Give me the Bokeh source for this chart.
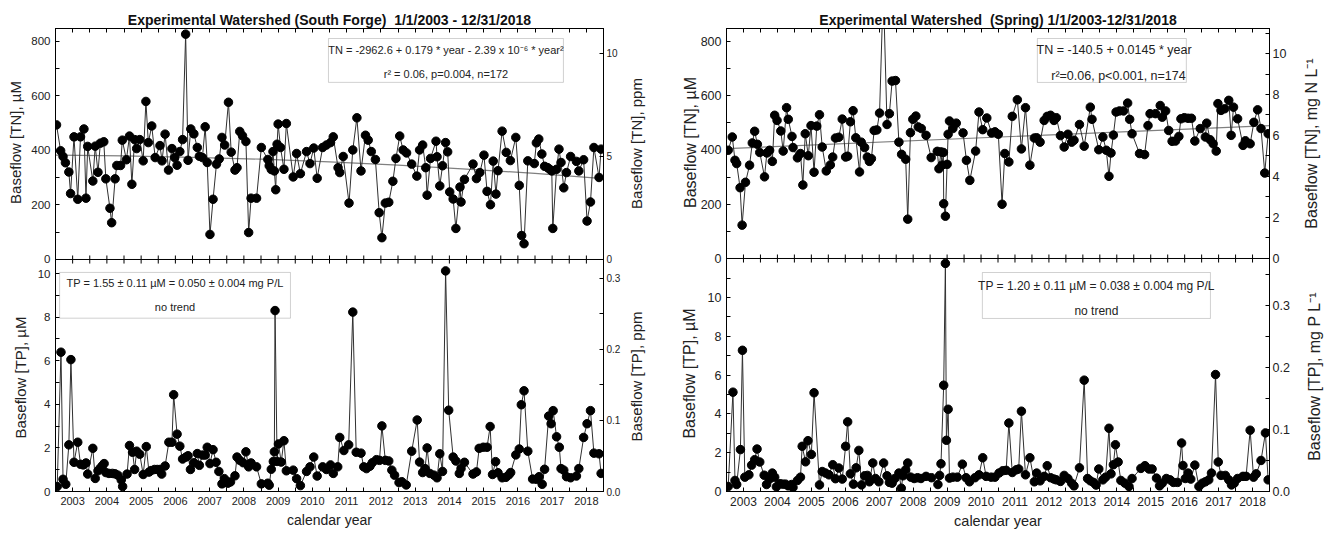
import math
from bokeh.plotting import figure
from bokeh.models import (Range1d, LinearAxis, FixedTicker, CustomJSTickFormatter,
                          PrintfTickFormatter, BoxAnnotation, Label, GridBox, Span, Column)
from bokeh.embed import file_html
from bokeh.resources import INLINE

FONT = "Liberation Sans"

# ---------------- data: South Forge ----------------
sf_tn_year = [2003.03, 2003.15, 2003.22, 2003.29, 2003.39, 2003.44, 2003.54, 2003.65, 2003.73, 2003.83, 2003.89, 2003.94,
              2004.09, 2004.16, 2004.24, 2004.31, 2004.41, 2004.47, 2004.59, 2004.64, 2004.74, 2004.79, 2004.90, 2004.95,
              2005.07, 2005.16, 2005.23, 2005.31, 2005.37, 2005.46, 2005.56, 2005.64, 2005.71, 2005.81, 2005.91,
              2006.05, 2006.11, 2006.20, 2006.30, 2006.40, 2006.48, 2006.55, 2006.63, 2006.71, 2006.80, 2006.87, 2006.95,
              2007.04, 2007.14, 2007.20, 2007.29, 2007.37, 2007.43, 2007.51, 2007.60, 2007.70, 2007.78, 2007.86, 2007.94,
              2008.05, 2008.13, 2008.24, 2008.30, 2008.38, 2008.46, 2008.56, 2008.64, 2008.71, 2008.87,
              2009.01, 2009.20, 2009.24, 2009.30, 2009.35, 2009.39, 2009.43, 2009.47, 2009.50, 2009.57, 2009.67, 2009.74, 2009.94,
              2010.04, 2010.15, 2010.33, 2010.43, 2010.54, 2010.64, 2010.80, 2010.91,
              2011.03, 2011.11, 2011.25, 2011.30, 2011.40, 2011.57, 2011.68, 2011.80, 2011.92,
              2012.05, 2012.13, 2012.22, 2012.34, 2012.45, 2012.53, 2012.63, 2012.73, 2012.85, 2012.94,
              2013.05, 2013.15, 2013.25, 2013.40, 2013.55, 2013.63, 2013.72, 2013.81, 2013.85, 2013.95,
              2014.11, 2014.14, 2014.22, 2014.30, 2014.39, 2014.45, 2014.51, 2014.61, 2014.69, 2014.81, 2014.84, 2014.94,
              2015.19, 2015.29, 2015.39, 2015.51, 2015.60, 2015.70, 2015.78, 2015.86, 2015.92,
              2016.04, 2016.16, 2016.28, 2016.44, 2016.54, 2016.61, 2016.68, 2016.79, 2016.98,
              2017.04, 2017.11, 2017.20, 2017.28, 2017.37, 2017.43, 2017.49, 2017.52, 2017.63, 2017.70, 2017.76, 2017.84, 2017.92,
              2018.04, 2018.21, 2018.28, 2018.42, 2018.52, 2018.62, 2018.72, 2018.87, 2018.93]
sf_tn = [494, 399, 378, 355, 321, 242, 450, 221, 450, 479, 225, 415,
         288, 416, 320, 427, 432, 296, 188, 135, 296, 345, 345, 438,
         366, 453, 276, 440, 407, 440, 362, 580, 429, 490, 374,
         418, 362, 460, 328, 407, 374, 346, 396, 440, 827, 364, 479,
         461, 411, 379, 374, 487, 356, 92, 221, 350, 369, 448, 420,
         577, 394, 328, 337, 470, 454, 433, 99, 225, 225,
         411, 367, 344, 330, 396, 325, 256, 423, 497, 411, 331, 499, 303,
         389, 315, 396, 352, 409, 298, 411, 420,
         429, 450, 337, 319, 378, 207, 402, 520, 325,
         456, 438, 396, 367, 172, 80, 207, 210, 287, 371,
         453, 402, 391, 350, 306, 402, 420, 337, 236, 371,
         434, 377, 270, 344, 429, 395, 248, 222, 114, 266, 211, 294,
         350, 297, 319, 383, 250, 201, 361, 240, 326,
         471, 393, 363, 448, 272, 88, 58, 362, 352,
         428, 442, 387, 342, 337, 331, 325, 114, 331, 405, 356, 263, 319,
         378, 360, 325, 366, 141, 211, 411, 301, 405]
sf_trend_year = [2003, 2005, 2007, 2009, 2011, 2013, 2015, 2017, 2019]
sf_trend = [383, 380, 375, 368, 358, 346, 332, 316, 297]

sf_tp_year = [2003.05, 2003.16, 2003.22, 2003.30, 2003.39, 2003.45, 2003.54, 2003.65, 2003.73, 2003.81, 2003.89, 2003.94,
              2004.09, 2004.16, 2004.24, 2004.31, 2004.37, 2004.42, 2004.47, 2004.56, 2004.66, 2004.74, 2004.82, 2004.92, 2004.96,
              2005.09, 2005.16, 2005.25, 2005.31, 2005.37, 2005.46, 2005.56, 2005.65, 2005.73, 2005.79, 2005.89, 2005.97,
              2006.05, 2006.10, 2006.20, 2006.31, 2006.40, 2006.45, 2006.55, 2006.63, 2006.71, 2006.81, 2006.87, 2006.94,
              2007.04, 2007.14, 2007.20, 2007.29, 2007.37, 2007.43, 2007.51, 2007.60, 2007.69, 2007.77, 2007.86, 2007.93,
              2008.03, 2008.11, 2008.24, 2008.30, 2008.38, 2008.48, 2008.56, 2008.64, 2008.71, 2008.87,
              2009.01, 2009.20, 2009.24, 2009.30, 2009.36, 2009.39, 2009.41, 2009.47, 2009.51, 2009.59, 2009.67, 2009.74, 2009.94,
              2010.04, 2010.15, 2010.33, 2010.43, 2010.54, 2010.64, 2010.80, 2010.91,
              2011.03, 2011.11, 2011.24, 2011.30, 2011.42, 2011.56, 2011.68, 2011.78, 2011.92,
              2012.00, 2012.08, 2012.18, 2012.25, 2012.37, 2012.46, 2012.53, 2012.63, 2012.73, 2012.82, 2012.90,
              2013.03, 2013.11, 2013.24, 2013.40, 2013.56, 2013.63, 2013.72, 2013.79, 2013.85, 2013.93,
              2014.05, 2014.14, 2014.22, 2014.30, 2014.39, 2014.48, 2014.61, 2014.69, 2014.79, 2014.84, 2014.94,
              2015.19, 2015.29, 2015.37, 2015.49, 2015.60, 2015.69, 2015.76, 2015.85, 2015.92,
              2016.04, 2016.15, 2016.24, 2016.29, 2016.44, 2016.54, 2016.60, 2016.68, 2016.79, 2016.93,
              2017.04, 2017.12, 2017.21, 2017.28, 2017.40, 2017.47, 2017.53, 2017.63, 2017.71, 2017.76, 2017.84, 2017.92,
              2018.04, 2018.21, 2018.28, 2018.42, 2018.52, 2018.62, 2018.72, 2018.87, 2018.93]
sf_tp = [0.23, 6.39, 0.56, 0.33, 2.14, 6.05, 1.34, 2.26, 1.25, 1.22, 1.31, 0.80,
         1.98, 0.60, 0.95, 1.08, 1.19, 1.28, 0.87, 0.83, 0.83, 0.81, 0.75, 0.53, 0.23,
         0.80, 2.11, 1.80, 1.01, 1.85, 1.71, 0.78, 2.06, 0.89, 0.96, 1.01, 1.01,
         1.01, 0.80, 1.17, 2.26, 2.26, 4.44, 2.63, 2.08, 1.49, 1.58, 1.64, 1.01,
         1.32, 1.74, 1.20, 1.67, 1.67, 2.03, 1.28, 1.92, 1.34, 0.92, 0.35, 0.59,
         0.38, 0.44, 0.72, 1.58, 1.43, 1.32, 1.82, 1.13, 1.31, 1.13,
         0.35, 0.38, 0.29, 1.02, 1.38, 1.82, 8.30, 1.38, 2.18, 1.35, 2.33, 0.95, 0.98,
         0.59, 0.27, 0.92, 1.13, 1.58, 0.71, 1.13, 1.01,
         1.22, 0.83, 1.13, 2.48, 1.88, 2.14, 8.23, 1.80, 1.76,
         1.13, 1.05, 1.16, 1.32, 1.46, 1.43, 3.01, 1.43, 1.40, 0.98, 0.75,
         0.41, 0.45, 0.30, 1.85, 3.28, 1.35, 0.87, 1.05, 2.00, 0.83,
         0.75, 0.63, 1.73, 0.92, 10.12, 3.73, 1.58, 1.40, 0.83, 1.05, 1.34,
         0.80, 0.90, 1.98, 2.03, 2.03, 2.98, 0.78, 1.37, 0.86,
         0.63, 0.65, 0.77, 0.87, 1.68, 1.95, 3.98, 4.62, 1.85, 0.57,
         0.56, 0.68, 0.33, 1.02, 3.46, 3.11, 3.71, 2.51, 2.03, 1.05, 0.98, 0.68,
         0.63, 0.71, 1.05, 2.48, 3.11, 3.71, 1.76, 1.73, 0.83]

# ---------------- data: Spring ----------------
sp_tn_year = [2003.05, 2003.17, 2003.25, 2003.30, 2003.40, 2003.46, 2003.56, 2003.68, 2003.76, 2003.83, 2003.91, 2003.98,
              2004.12, 2004.19, 2004.27, 2004.35, 2004.42, 2004.49, 2004.60, 2004.67, 2004.77, 2004.82, 2004.93, 2004.96,
              2005.09, 2005.18, 2005.25, 2005.32, 2005.41, 2005.49, 2005.58, 2005.66, 2005.74, 2005.82, 2005.94,
              2006.06, 2006.13, 2006.21, 2006.31, 2006.41, 2006.51, 2006.57, 2006.65, 2006.73, 2006.81, 2006.92, 2006.97,
              2007.07, 2007.15, 2007.21, 2007.27, 2007.35, 2007.43, 2007.51, 2007.62, 2007.73, 2007.80, 2007.88, 2007.98,
              2008.08, 2008.16, 2008.28, 2008.34, 2008.42, 2008.49, 2008.58, 2008.65, 2008.74, 2008.88,
              2009.03, 2009.21, 2009.26, 2009.32, 2009.35, 2009.39, 2009.40, 2009.45, 2009.50, 2009.53, 2009.57, 2009.67, 2009.77, 2009.97,
              2010.07, 2010.17, 2010.34, 2010.44, 2010.55, 2010.67, 2010.81, 2010.91,
              2011.01, 2011.12, 2011.20, 2011.32, 2011.42, 2011.57, 2011.69, 2011.81, 2011.94,
              2012.07, 2012.14, 2012.24, 2012.36, 2012.45, 2012.55, 2012.65, 2012.72, 2012.84, 2012.95,
              2013.06, 2013.17, 2013.24, 2013.40, 2013.54, 2013.72, 2013.77, 2013.97,
              2014.09, 2014.19, 2014.27, 2014.33, 2014.40, 2014.48, 2014.58, 2014.70, 2014.82, 2014.88, 2014.95,
              2015.17, 2015.32, 2015.42, 2015.48, 2015.64, 2015.78, 2015.84, 2015.94,
              2016.03, 2016.13, 2016.23, 2016.33, 2016.39, 2016.49, 2016.60, 2016.70, 2016.80, 2016.96,
              2017.11, 2017.15, 2017.25, 2017.34, 2017.43, 2017.48, 2017.57, 2017.68, 2017.80, 2017.87, 2017.94,
              2018.06, 2018.22, 2018.29, 2018.43, 2018.54, 2018.65, 2018.75, 2018.86, 2018.96]
sp_tn = [399, 448, 362, 350, 261, 123, 281, 344, 426, 469, 421, 391,
         301, 389, 399, 358, 528, 509, 470, 396, 556, 513, 450, 409,
         371, 387, 271, 460, 379, 490, 318, 488, 530, 411, 323,
         345, 374, 444, 447, 514, 374, 377, 504, 545, 445, 319, 429,
         409, 374, 358, 368, 472, 474, 536, 1000, 494, 534, 654, 656,
         429, 384, 366, 145, 464, 513, 525, 485, 479, 454,
         372, 395, 331, 393, 344, 391, 202, 156, 347, 458, 507, 479, 499, 463,
         362, 288, 396, 540, 475, 518, 463, 467,
         458, 200, 387, 356, 524, 585, 404, 556, 344,
         444, 445, 429, 509, 524, 528, 509, 519, 453, 411,
         458, 429, 436, 494, 414, 558, 513, 401,
         448, 399, 303, 389, 455, 540, 544, 544, 573, 513, 460,
         387, 383, 490, 534, 534, 564, 521, 544,
         472, 432, 433, 450, 515, 519, 517, 517, 433, 479,
         448, 499, 438, 423, 396, 571, 546, 552, 583, 454, 558,
         515, 417, 434, 423, 502, 548, 479, 315, 460]
sp_trend_year = [2003, 2019]
sp_trend = [405, 490]

sp_tp_year = [2003.05, 2003.19, 2003.25, 2003.30, 2003.41, 2003.47, 2003.54, 2003.66, 2003.74, 2003.83, 2003.90, 2003.98,
              2004.11, 2004.18, 2004.27, 2004.35, 2004.42, 2004.47, 2004.58, 2004.66, 2004.74, 2004.82, 2004.92, 2004.96,
              2005.09, 2005.18, 2005.23, 2005.33, 2005.40, 2005.50, 2005.58, 2005.74, 2005.82, 2005.92,
              2006.02, 2006.13, 2006.21, 2006.31, 2006.41, 2006.51, 2006.57, 2006.65, 2006.74, 2006.82, 2006.90, 2006.98,
              2007.07, 2007.15, 2007.21, 2007.31, 2007.39, 2007.49, 2007.63, 2007.73, 2007.80, 2007.88, 2007.96,
              2008.08, 2008.15, 2008.20, 2008.28, 2008.34, 2008.43, 2008.53, 2008.63, 2008.73, 2008.88,
              2009.04, 2009.23, 2009.28, 2009.32, 2009.40, 2009.45, 2009.48, 2009.53, 2009.57, 2009.67, 2009.80, 2009.95,
              2010.06, 2010.16, 2010.32, 2010.44, 2010.55, 2010.65, 2010.80, 2010.91,
              2011.03, 2011.14, 2011.24, 2011.32, 2011.42, 2011.54, 2011.61, 2011.69, 2011.81, 2011.94,
              2012.07, 2012.14, 2012.24, 2012.36, 2012.45, 2012.55, 2012.65, 2012.72, 2012.84, 2012.95,
              2013.06, 2013.17, 2013.24, 2013.40, 2013.54, 2013.64, 2013.72, 2013.81, 2013.89, 2013.97,
              2014.09, 2014.17, 2014.27, 2014.33, 2014.40, 2014.46, 2014.54, 2014.62, 2014.74, 2014.86, 2014.95,
              2015.21, 2015.33, 2015.45, 2015.54, 2015.67, 2015.76, 2015.84, 2015.96,
              2016.07, 2016.17, 2016.29, 2016.41, 2016.45, 2016.52, 2016.60, 2016.68, 2016.80, 2016.92,
              2017.02, 2017.11, 2017.21, 2017.29, 2017.41, 2017.49, 2017.57, 2017.70, 2017.80, 2017.88, 2017.96,
              2018.06, 2018.22, 2018.31, 2018.43, 2018.53, 2018.61, 2018.75, 2018.88, 2018.96]
sp_tp = [0.26, 5.12, 0.57, 0.36, 2.16, 7.28, 0.74, 0.86, 1.36, 1.64, 2.19, 1.52,
         0.84, 0.36, 0.64, 0.95, 0.74, 0.24, 0.40, 0.38, 0.38, 0.29, 0.36, 0.21,
         0.57, 0.74, 2.33, 1.53, 2.62, 1.91, 5.09, 0.34, 1.03, 0.95,
         0.86, 1.38, 0.66, 1.21, 0.64, 2.33, 3.59, 0.91, 0.38, 1.22, 2.12, 0.34,
         0.81, 0.83, 0.50, 1.47, 0.67, 0.50, 1.47, 0.81, 0.47, 0.43, 0.67,
         0.95, 0.17, 0.81, 1.12, 1.47, 0.74, 0.67, 0.71, 0.67, 0.78,
         0.71, 0.36, 0.83, 1.43, 5.48, 11.76, 2.64, 4.24, 0.69, 0.74, 0.74, 1.41,
         0.71, 0.50, 0.71, 0.86, 1.74, 0.78, 0.74, 0.74,
         0.95, 1.07, 1.09, 3.53, 0.98, 1.12, 1.16, 4.14, 0.86, 1.74,
         0.50, 0.95, 0.55, 0.78, 1.33, 0.71, 0.64, 0.60, 0.52, 0.83,
         0.67, 0.43, 0.29, 1.22, 5.74, 0.67, 0.55, 0.47, 0.33, 1.16,
         0.60, 0.74, 3.26, 0.91, 1.38, 2.41, 1.52, 0.57, 0.43, 0.26, 0.67,
         1.19, 1.33, 1.16, 1.16, 0.69, 0.29, 0.43, 0.67,
         0.60, 0.47, 0.47, 2.50, 1.34, 0.67, 0.95, 0.64, 1.36, 0.26,
         0.43, 0.50, 0.60, 0.95, 6.03, 1.52, 0.83, 0.83, 0.60, 0.34, 0.43,
         0.67, 0.78, 0.78, 3.16, 0.74, 0.91, 1.60, 3.02, 0.60]

# ---------------- ticks ----------------
calendar_years = list(range(2003, 2019))
year_label_pos = [y + 0.5 for y in calendar_years]
year_bounds = list(range(2003, 2020))

tn_ticks = [0, 200, 400, 600, 800]
tn_minor = [100, 300, 500, 700]
tp_ticks = [0, 2, 4, 6, 8, 10]
sf_tp_minor = [1, 3, 5, 7, 9]
sp_tp_minor = [1, 3, 5, 7, 9, 11]
ppm_tn_ticks = [0, 5, 10]
mgn_ticks = [0, 2, 4, 6, 8, 10]
mgn_minor = [1, 3, 5, 7, 9, 11]
mgp_ticks = [0.0, 0.1, 0.2, 0.3]
sf_mgp_minor = [0.05, 0.15, 0.25]
sp_mgp_minor = [0.05, 0.15, 0.25, 0.35]

year_fmt = "return Math.floor(tick).toString();"

# layout: each column holds two overlapping figures sharing one frame (28..491 px);
# the upper panel's ranges put its zero at the panel border, the lower panel's top at it.
W, H = 666, 533
BORD_TOP, BORD_BOTTOM = 28, 42


def base_fig(left, right, yr, y2r, title=None):
    p = figure(width=W, height=H, x_range=Range1d(2003, 2019), y_range=Range1d(*yr),
               output_backend="svg", toolbar_location=None, x_axis_location=None, y_axis_location=None,
               min_border_left=left, min_border_right=right,
               min_border_top=BORD_TOP, min_border_bottom=BORD_BOTTOM)
    p.extra_y_ranges = {"r": Range1d(*y2r)}
    p.grid.visible = False
    p.background_fill_color = None
    p.border_fill_color = None
    p.outline_line_color = "black"
    p.outline_line_width = 1
    if title:
        p.title.text = title
        p.title.align = "center"
        p.title.text_font = FONT
        p.title.text_font_size = "14px"
        p.title.text_font_style = "bold"
        p.title.text_color = "#111111"
        p.title.standoff = 1
    return p


def style_axis(ax, fs=None, standoff=4):
    ax.axis_line_color = "black"
    ax.major_tick_in = 4
    ax.major_tick_out = 0
    ax.minor_tick_in = 4
    ax.minor_tick_out = 0
    ax.major_tick_line_color = "black"
    ax.minor_tick_line_color = "black"
    ax.major_label_text_font = FONT
    ax.major_label_text_color = "#222222"
    ax.axis_label_text_font = FONT
    ax.axis_label_text_font_style = "normal"
    ax.axis_label_text_color = "#222222"
    if fs is None:
        ax.major_label_text_font_size = "0px"
        ax.major_label_text_alpha = 0
        ax.major_label_standoff = 0
    else:
        ax.major_label_text_font_size = fs
        ax.major_label_standoff = standoff
    return ax


def add_x_axis(p, side, label_fs=None, axis_label=None, axis_label_fs=None):
    ax = LinearAxis(ticker=FixedTicker(ticks=year_label_pos, minor_ticks=year_bounds),
                    formatter=CustomJSTickFormatter(code=year_fmt))
    style_axis(ax, label_fs, 5)
    if axis_label:
        ax.axis_label = axis_label
        ax.axis_label_text_font_size = axis_label_fs
        ax.axis_label_standoff = 4
    p.add_layout(ax, side)


def add_y_axis(p, side, ticks, minor, fs, fmt=None, range_name="default"):
    ax = LinearAxis(ticker=FixedTicker(ticks=ticks, minor_ticks=minor), y_range_name=range_name)
    if fmt is not None:
        ax.formatter = fmt
    style_axis(ax, fs, 3 if side == "right" else 5)
    p.add_layout(ax, side)


def border_ticks(p, level, length, direction):
    xs = year_label_pos + year_bounds
    p.segment(x0=xs, y0=[level] * len(xs), x1=xs, y1=[level + direction * length] * len(xs),
              line_color="black", line_width=1)


def draw_series(p, xs, ys):
    p.line(xs, ys, line_color="#303030", line_width=1)
    p.scatter(xs, ys, size=8.5, fill_color="black", line_color="black")


def note_box(p, left, right, bottom, top, lines, fs):
    p.add_layout(BoxAnnotation(left=left, right=right, bottom=bottom, top=top,
                               fill_alpha=0, line_color="#666666", line_width=1))
    for (x, y, txt) in lines:
        p.add_layout(Label(x=x, y=y, text=txt, text_align="center", text_baseline="middle",
                           text_font=FONT, text_font_size=fs, text_color="#222222"))


# ---------------- South Forge (left column) ----------------
p1 = base_fig(55, 63, (-851.4, 847.7), (-11.26, 11.21),
              "Experimental Watershed (South Forge)\u00a0 1/1/2003 - 12/31/2018")
add_x_axis(p1, "above")
add_y_axis(p1, "left", tn_ticks, tn_minor, "11.5px")
add_y_axis(p1, "right", ppm_tn_ticks, [], "10px", range_name="r")
p1.add_layout(Span(location=0, dimension="width", line_color="black", line_width=1))
border_ticks(p1, 0, 14.7, 1)
p1.line(sf_trend_year, sf_trend, line_color="#808080", line_width=1.2)
draw_series(p1, sf_tn_year, sf_tn)
note_box(p1, 2010.97, 2017.83, 650, 811,
         [(2014.40, 767, "TN = -2962.6 + 0.179 * year - 2.39 x 10\u207b\u2076 * year\u00b2"),
          (2014.40, 679, "r\u00b2 = 0.06, p=0.004, n=172")], "11px")

p2 = base_fig(55, 63, (0, 21.24), (0, 0.652))
add_x_axis(p2, "below", "11px", "calendar year", "14px")
add_y_axis(p2, "left", tp_ticks, sf_tp_minor, "11.5px")
add_y_axis(p2, "right", mgp_ticks, sf_mgp_minor, "10px",
           fmt=PrintfTickFormatter(format="%.1f"), range_name="r")
border_ticks(p2, 10.64, 0.183, -1)
draw_series(p2, sf_tp_year, sf_tp)
note_box(p2, 2003.12, 2009.86, 7.95, 10.05,
         [(2006.49, 9.55, "TP = 1.55 \u00b1 0.11 \u00b5M = 0.050 \u00b1 0.004 mg P/L"),
          (2006.49, 8.45, "no trend")], "11px")

# ---------------- Spring (right column) ----------------
p3 = base_fig(60, 63, (-859.0, 847.9), (-11.37, 11.22),
              "Experimental Watershed\u00a0 (Spring) 1/1/2003-12/31/2018")
add_x_axis(p3, "above")
add_y_axis(p3, "left", tn_ticks, tn_minor, "12.5px")
add_y_axis(p3, "right", mgn_ticks, mgn_minor, "12.5px", range_name="r")
p3.add_layout(Span(location=0, dimension="width", line_color="black", line_width=1))
border_ticks(p3, 0, 14.7, 1)
p3.line(sp_trend_year, sp_trend, line_color="#808080", line_width=1.2)
draw_series(p3, sp_tn_year, sp_tn)
note_box(p3, 2012.16, 2016.55, 649, 811,
         [(2014.42, 770, "TN = -140.5 + 0.0145 * year"),
          (2014.55, 671, "r\u00b2=0.06, p<0.001, n=174")], "12.5px")

p4 = base_fig(60, 63, (0, 23.87), (0, 0.747))
add_x_axis(p4, "below", "12px", "calendar year", "14.5px")
add_y_axis(p4, "left", tp_ticks, sp_tp_minor, "12.5px")
add_y_axis(p4, "right", mgp_ticks, sp_mgp_minor, "12.5px",
           fmt=PrintfTickFormatter(format="%.1f"), range_name="r")
border_ticks(p4, 12.01, 0.206, -1)
draw_series(p4, sp_tp_year, sp_tp)
note_box(p4, 2010.54, 2017.26, 8.92, 11.29,
         [(2013.90, 10.62, "TP = 1.20 \u00b1 0.11 \u00b5M = 0.038 \u00b1 0.004 mg P/L"),
          (2013.90, 9.28, "no trend")], "12px")

# ---------------- axis titles: a transparent overlay in page pixels ----------------
side_titles = ["Baseflow [TN], \u00b5M", "Baseflow [TN], ppm", "Baseflow [TP], \u00b5M", "Baseflow [TP], ppm",
               "Baseflow [TN], \u00b5M", "Baseflow [TN], mg N L\u207b\u00b9",
               "Baseflow [TP], \u00b5M", "Baseflow [TP], mg P L\u207b\u00b9"]
side_title_pos = [(15, 142), (636, 143), (20, 377), (636, 376),
                  (690, 142), (1311, 143), (689, 373), (1314, 376)]
side_title_size = ["15px"] * 4 + ["16px"] * 4

ov = figure(width=2 * W, height=H, x_range=Range1d(0, 2 * W), y_range=Range1d(H, 0),
            output_backend="svg", toolbar_location=None, x_axis_location=None, y_axis_location=None,
            min_border=0, min_border_left=0, min_border_right=0, min_border_top=0, min_border_bottom=0)
ov.grid.visible = False
ov.outline_line_color = None
ov.background_fill_color = None
ov.border_fill_color = None
for txt, (sx, sy), fs in zip(side_titles, side_title_pos, side_title_size):
    ov.add_layout(Label(x=sx, y=sy, text=txt, angle=math.pi / 2, text_align="center",
                        text_baseline="middle", text_font=FONT, text_font_size=fs,
                        text_color="#222222"))

grid = GridBox(children=[(p1, 0, 0), (p2, 0, 0), (p3, 0, 1), (p4, 0, 1),
                         (Column(children=[ov]), 0, 0, 1, 2)], spacing=0)

open("out.html", "w").write(file_html(grid, INLINE))
